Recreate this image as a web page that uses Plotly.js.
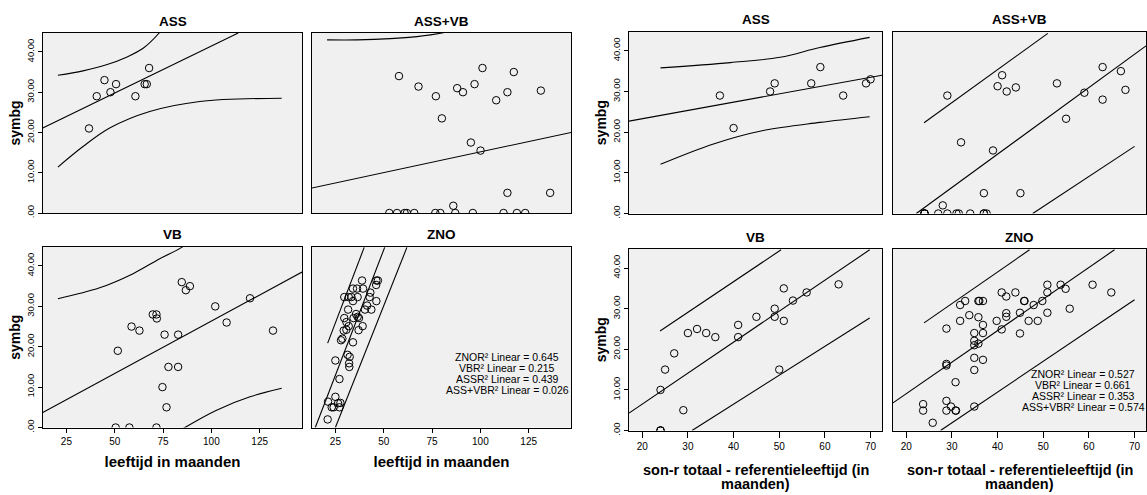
<!DOCTYPE html>
<html>
<head>
<meta charset="utf-8">
<script src="https://cdn.plot.ly/plotly-3.0.1.min.js"></script>
<style>html,body{margin:0;padding:0;background:#fff}#chart{width:1147px;height:495px}</style>
</head>
<body>
<div id="chart"></div>
<script>
// ---------- DATA ----------
// Left block: x = leeftijd in maanden
const assAgeX = [36.7, 40.7, 44.7, 47.8, 50.7, 60.7, 65.5, 66.6, 67.8];
const assAgeY = [21, 29, 33, 30, 32, 29, 32, 32, 36];

const assVbAgeX = [57.9, 68.0, 77.0, 80.1, 88.0, 91.0, 97.0, 101.1, 95.1, 100.1, 108.2, 114.0, 117.3, 131.3, 114.0, 136.1, 86.0,
                   52.9, 56.9, 60.8, 62.0, 65.8, 76.7, 79.3, 87.0, 96.1, 112.0, 118.9, 123.2];
const assVbAgeY = [34, 31.4, 29, 23.5, 31, 30, 32, 36, 17.5, 15.5, 28, 30, 35, 30.4, 5, 5, 1.8,
                   0, 0, 0, 0, 0, 0, 0, 0, 0, 0, 0, 0];

const vbAgeX = [51.6, 50.5, 57.6, 58.7, 62.8, 69.7, 71.6, 71.8, 71.6, 75.8, 74.7, 77.8, 76.8, 82.8, 82.8, 84.7, 86.8, 88.9, 102.0, 107.9, 120.0, 131.9];
const vbAgeY = [19, 0, 0, 25, 24, 28, 28, 27, 0, 23, 10, 15, 5, 23, 15, 36, 34, 35, 30, 26, 32, 24];

const znoAgeX = [38.8, 46.2, 47.0, 46.1, 34.1, 36.2, 39.3, 43.1, 29.6, 31.9, 33.3, 36.5, 42.7, 34.1, 46.2, 41.4, 31.6, 40.3, 43.6,
                 35.7, 36.5, 29.6, 34.4, 37.2, 30.7, 39.1, 31.9, 29.3, 37.0, 30.7, 28.6, 27.9, 34.1, 31.3, 32.4, 32.1, 32.2, 25.0,
                 27.1, 25.0, 21.2, 27.6, 26.4, 23.1, 24.1, 27.1, 21.0];
const znoAgeY = [36.4, 36.4, 36.4, 35.3, 34.4, 34.4, 34.4, 33.4, 32.3, 32.3, 32.3, 32.3, 32.3, 31.3, 31.3, 30.2, 29.2, 29.2, 29.2,
                 28.1, 27.4, 27.1, 27.1, 27.1, 26.1, 25.1, 25.1, 24.0, 24.1, 24.2, 22.0, 21.6, 21.1, 18.0, 17.5, 15.9, 15.0, 16.6,
                 12.0, 7.6, 6.4, 6.1, 6.0, 5.0, 5.0, 5.0, 2.0];

// Right block: x = son-r totaal - referentieleeftijd (in maanden)
const assSonX = [37, 40, 48, 49, 57, 59, 64, 69, 70];
const assSonY = [29, 21, 30, 32, 32, 36, 29, 32, 33];

const assVbSonX = [29, 32, 39, 40, 41, 42, 44, 37, 45, 28, 53, 55, 59, 63, 63, 67, 68,
                   24, 24, 24, 24, 27, 29, 31, 31.5, 34, 37, 37, 37.6];
const assVbSonY = [29, 17.5, 15.5, 31.3, 34, 30, 31, 5, 5, 2, 32, 23.3, 29.7, 36, 28, 35, 30.4,
                   0, 0, 0, 0, 0, 0, 0, 0, 0, 0, 0, 0];

const vbSonX = [24, 24, 24, 24, 25, 27, 29, 30, 32, 34, 36, 41, 41, 45, 49, 49, 50, 51, 51, 53, 56, 63];
const vbSonY = [10, 0, 0, 0, 15, 19, 5, 24, 25, 24, 23, 26, 23, 28, 30, 28, 15, 35, 27, 32, 34, 36];

const znoSonX = [23.7, 23.7, 25.8, 28.8, 28.8, 28.8, 28.8, 28.8, 29.8, 30.8, 30.9, 30.8, 31.8, 31.8, 32.9, 33.8,
                 34.9, 34.9, 34.9, 34.9, 34.9, 34.9, 35.8, 36.0, 35.8, 35.8, 36.8, 36.8, 36.8, 36.8, 39.8, 40.9, 40.9,
                 41.9, 41.9, 41.9, 43.9, 44.9, 44.9, 45.8, 45.9, 46.8, 47.9, 48.8, 49.8, 50.9, 50.9, 50.9, 53.8, 54.9,
                 55.8, 60.8, 64.9];
const znoSonY = [6.5, 4.9, 1.9, 25.1, 16.4, 16.0, 7.3, 4.9, 5.9, 4.9, 4.9, 11.9, 27.0, 30.9, 31.9, 28.4,
                 24.0, 22.1, 21.0, 17.9, 14.9, 5.9, 31.9, 31.9, 27.9, 21.4, 31.9, 26.0, 24.0, 17.4, 27.0, 34.0, 24.9,
                 33.0, 28.9, 28.0, 34.0, 29.0, 23.9, 31.9, 31.9, 27.0, 30.9, 27.0, 31.9, 35.9, 34.0, 29.0, 35.9, 34.9,
                 30.0, 35.9, 34.0];

// Fit lines and prediction-interval curves
const fitAssAgeX = [12.7, 113.9], fitAssAgeY = [21.1, 44.7];
const hiAssAgeX = [20.6, 33.6, 45.7, 56.1, 64.7, 73.0, 75.0], hiAssAgeY = [34.2, 35.3, 36.8, 38.7, 40.9, 44.7, 46.0];
const loAssAgeX = [20.6, 33.6, 47.4, 68.1, 94.0, 136.4], loAssAgeY = [11.4, 16.5, 21.1, 25.2, 27.7, 28.5];

const fitAssVbAgeX = [12.7, 146.9], fitAssVbAgeY = [6.2, 20.0];
const hiAssVbAgeX = [20.7, 36.2, 53.4, 67.2, 80.1, 86.0], hiAssVbAgeY = [43.0, 43.0, 43.3, 43.8, 44.7, 45.4];

const fitVbAgeX = [12.7, 146.9], fitVbAgeY = [3.7, 38.5];
const hiVbAgeX = [20.6, 42.2, 59.5, 73.3, 84.6, 88.0], hiVbAgeY = [31.9, 34.6, 38.1, 41.8, 44.6, 46.0];
const loVbAgeX = [84.0, 86.3, 102.7, 120.0, 136.4], loVbAgeY = [-0.7, 0, 4.3, 7.6, 9.7];

const fitZnoAgeX = [14.6, 50.5], fitZnoAgeY = [0, 44.6];
const hiZnoAgeX = [21.0, 39.9], hiZnoAgeY = [20.9, 44.6];
const loZnoAgeX = [25.0, 62.0], loZnoAgeY = [0, 44.6];

const fitAssSonX = [17.1, 72.5], fitAssSonY = [22.7, 34.0];
const hiAssSonX = [24.0, 39.3, 50.2, 58.9, 69.8], hiAssSonY = [35.8, 37.1, 38.4, 40.8, 43.3];
const loAssSonX = [24.0, 35.6, 46.5, 58.9, 69.8], loAssSonY = [12.1, 17.1, 20.4, 22.4, 23.8];

const fitAssVbSonX = [22.2, 72.5], fitAssVbSonY = [0, 41.2];
const hiAssVbSonX = [23.9, 51.0], hiAssVbSonY = [22.3, 44.3];
const loAssVbSonX = [47.7, 70.0], loAssVbSonY = [0, 16.5];

const fitVbSonX = [17.1, 69.8], fitVbSonY = [4.3, 44.5];
const hiVbSonX = [23.9, 50.4], hiVbSonY = [24.5, 44.5];
const loVbSonX = [30.9, 69.8], loVbSonY = [0, 27.7];

const fitZnoSonX = [17.1, 65.6], fitZnoSonY = [6.8, 44.5];
const hiZnoSonX = [23.9, 47.0], hiZnoSonY = [26.5, 44.5];
const loZnoSonX = [27.5, 70.0], loZnoSonY = [0, 32.2];

// Text
const panelTitles = ['ASS', 'ASS+VB', 'VB', 'ZNO', 'ASS', 'ASS+VB', 'VB', 'ZNO'];
const yTickVals = [0, 10, 20, 30, 40];
const yTickText = ['.00', '10.00', '20.00', '30.00', '40.00'];
const leftXTicks = [25, 50, 75, 100, 125];
const rightXTicks = [20, 30, 40, 50, 60, 70];
const leftR2 = ['ZNOR² Linear = 0.645', 'VBR² Linear = 0.215', 'ASSR² Linear = 0.439', 'ASS+VBR² Linear = 0.026'];
const rightR2 = ['ZNOR² Linear = 0.527', 'VBR² Linear = 0.661', 'ASSR² Linear = 0.353', 'ASS+VBR² Linear = 0.574'];

// ---------- LAYOUT GEOMETRY (pixels) ----------
const W = 1147, H = 495;
// [left, right, top, bottom]
const boxes = [
  [43, 302, 33, 213], [312, 571, 33, 213], [43, 302, 247, 427.5], [312, 571, 247, 427.5],
  [629, 882, 31.7, 213.5], [893, 1146, 31.7, 213.5], [629, 882, 249, 430.5], [893, 1146, 249, 430.5]
];
const FONT = 'Liberation Sans, Arial, sans-serif';

const panels = [
  {pts: [assAgeX, assAgeY], lines: [[fitAssAgeX, fitAssAgeY, 'linear'], [hiAssAgeX, hiAssAgeY, 'spline'], [loAssAgeX, loAssAgeY, 'spline']]},
  {pts: [assVbAgeX, assVbAgeY], lines: [[fitAssVbAgeX, fitAssVbAgeY, 'linear'], [hiAssVbAgeX, hiAssVbAgeY, 'spline']]},
  {pts: [vbAgeX, vbAgeY], lines: [[fitVbAgeX, fitVbAgeY, 'linear'], [hiVbAgeX, hiVbAgeY, 'spline'], [loVbAgeX, loVbAgeY, 'spline']]},
  {pts: [znoAgeX, znoAgeY], lines: [[fitZnoAgeX, fitZnoAgeY, 'linear'], [hiZnoAgeX, hiZnoAgeY, 'linear'], [loZnoAgeX, loZnoAgeY, 'linear']]},
  {pts: [assSonX, assSonY], lines: [[fitAssSonX, fitAssSonY, 'linear'], [hiAssSonX, hiAssSonY, 'spline'], [loAssSonX, loAssSonY, 'spline']]},
  {pts: [assVbSonX, assVbSonY], lines: [[fitAssVbSonX, fitAssVbSonY, 'linear'], [hiAssVbSonX, hiAssVbSonY, 'linear'], [loAssVbSonX, loAssVbSonY, 'linear']]},
  {pts: [vbSonX, vbSonY], lines: [[fitVbSonX, fitVbSonY, 'linear'], [hiVbSonX, hiVbSonY, 'linear'], [loVbSonX, loVbSonY, 'linear']]},
  {pts: [znoSonX, znoSonY], lines: [[fitZnoSonX, fitZnoSonY, 'linear'], [hiZnoSonX, hiZnoSonY, 'linear'], [loZnoSonX, loZnoSonY, 'linear']]}
];

const traces = [];
const layout = {
  width: W, height: H,
  margin: {l: 0, r: 0, t: 0, b: 0},
  paper_bgcolor: '#ffffff', plot_bgcolor: '#f0f0f0',
  showlegend: false,
  font: {family: FONT, color: '#000'},
  annotations: []
};

panels.forEach((p, i) => {
  const n = i + 1;
  const xa = n === 1 ? 'x' : 'x' + n, ya = n === 1 ? 'y' : 'y' + n;
  const [l, r, t, b] = boxes[i];
  const isLeftBlock = i < 4;
  const isBottom = (i % 4) >= 2;
  const isFirstCol = (i % 2) === 0;
  p.lines.forEach(([lx, ly, shape]) => {
    traces.push({x: lx, y: ly, xaxis: xa, yaxis: ya, type: 'scatter', mode: 'lines',
      line: {color: '#000', width: 1.1, shape: shape, smoothing: 1}, hoverinfo: 'skip'});
  });
  traces.push({x: p.pts[0], y: p.pts[1], xaxis: xa, yaxis: ya, type: 'scatter', mode: 'markers',
    cliponaxis: true,
    marker: {symbol: 'circle-open', size: 7.5, color: '#000', line: {width: 1, color: '#000'}}});

  const xKey = n === 1 ? 'xaxis' : 'xaxis' + n, yKey = n === 1 ? 'yaxis' : 'yaxis' + n;
  layout[xKey] = {
    domain: [l / W, r / W], anchor: ya,
    range: isLeftBlock ? [12.9, 146.9] : [17.1, 72.5],
    showline: true, mirror: true, linecolor: '#000', linewidth: 1,
    showgrid: false, zeroline: false, fixedrange: true,
    tickvals: isLeftBlock ? leftXTicks : rightXTicks,
    ticks: isBottom ? 'outside' : '', ticklen: isLeftBlock ? 4 : 6, tickcolor: '#000',
    showticklabels: isBottom,
    tickfont: {size: 10, family: FONT, color: '#000'}
  };
  if (isBottom && isLeftBlock) {
    layout[xKey].title = {text: '<b>leeftijd in maanden</b>', font: {size: 15, family: FONT, color: '#000'}, standoff: 10};
  }
  layout[yKey] = {
    domain: [1 - b / H, 1 - t / H], anchor: xa,
    range: [0, 44.7],
    showline: true, mirror: true, linecolor: '#000', linewidth: 1,
    showgrid: false, zeroline: false, fixedrange: true,
    tickvals: yTickVals, ticktext: yTickText, tickangle: -90,
    ticks: isFirstCol ? 'outside' : '', ticklen: 4, tickcolor: '#000',
    showticklabels: isFirstCol,
    tickfont: {size: 9.5, family: FONT, color: '#000'}
  };
  if (isFirstCol) {
    layout[yKey].title = {text: '<b>symbg</b>', font: {size: 14, family: FONT, color: '#000'}, standoff: 1};
  }
  // panel title
  layout.annotations.push({text: '<b>' + panelTitles[i] + '</b>', xref: 'paper', yref: 'paper',
    x: (l + r) / 2 / W, y: 1 - (t - 12) / H, xanchor: 'center', yanchor: 'middle', showarrow: false,
    font: {size: 13.5, family: FONT, color: '#000'}});
  // two-line x title for right block
  if (isBottom && !isLeftBlock) {
    layout.annotations.push({text: '<b>son-r totaal - referentieleeftijd (in</b>', xref: 'paper', yref: 'paper',
      x: (l + r) / 2 / W, y: 1 - 470 / H, xanchor: 'center', yanchor: 'middle', showarrow: false,
      font: {size: 14.5, family: FONT, color: '#000'}});
    layout.annotations.push({text: '<b>maanden)</b>', xref: 'paper', yref: 'paper',
      x: (l + r) / 2 / W, y: 1 - 484 / H, xanchor: 'center', yanchor: 'middle', showarrow: false,
      font: {size: 14.5, family: FONT, color: '#000'}});
  }
});

// R-squared labels
leftR2.forEach((s, k) => {
  layout.annotations.push({text: s, xref: 'paper', yref: 'paper', x: 507 / W, y: 1 - (357 + k * 11) / H,
    xanchor: 'center', yanchor: 'middle', showarrow: false, font: {size: 10.5, family: FONT, color: '#000'}});
});
rightR2.forEach((s, k) => {
  layout.annotations.push({text: s, xref: 'paper', yref: 'paper', x: 1083 / W, y: 1 - (373.5 + k * 11) / H,
    xanchor: 'center', yanchor: 'middle', showarrow: false, font: {size: 10.5, family: FONT, color: '#000'}});
});

Plotly.newPlot('chart', traces, layout, {staticPlot: true, displayModeBar: false});
</script>
</body>
</html>
